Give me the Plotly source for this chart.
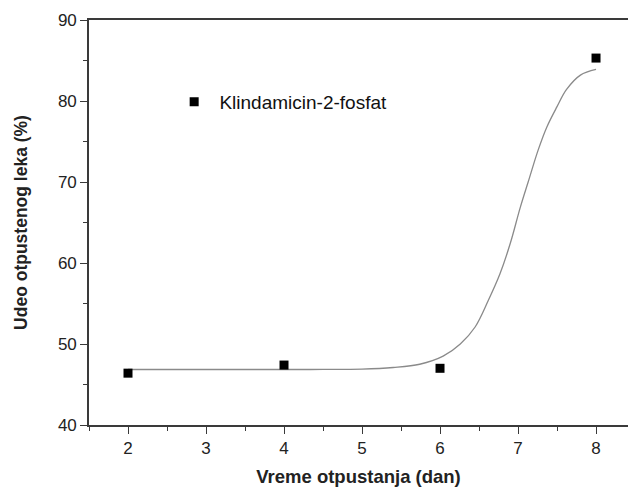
import plotly.graph_objects as go

# Measured release: day vs. released fraction (%)
days = [2, 4, 6, 8]
released = [46.4, 47.4, 47.0, 85.3]

# Sigmoidal fit curve, sampled points
fit_days = [2.0, 3.0, 4.0, 4.5, 5.0, 5.4, 5.74, 6.04, 6.26, 6.45, 6.62,
            6.77, 6.90, 7.03, 7.13, 7.26, 7.37, 7.50, 7.62, 7.80, 8.0]
fit_released = [46.85, 46.85, 46.85, 46.86, 46.9, 47.1, 47.5, 48.5, 50.0,
                52.1, 55.4, 58.7, 62.4, 66.9, 70.0, 74.0, 76.8, 79.3, 81.4,
                83.2, 83.9]

x_ticks = [2, 3, 4, 5, 6, 7, 8]
y_ticks = [40, 50, 60, 70, 80, 90]

series_name = "\u00a0Klindamicin-2-fosfat"
font_family = "Arial, 'Liberation Sans', sans-serif"
axis_color = "#3a3a3a"

fig = go.Figure()

fig.add_trace(go.Scatter(
    x=fit_days, y=fit_released, mode="lines",
    line=dict(color="#8a8a8a", width=1.3, shape="spline", smoothing=1.0),
    showlegend=False, hoverinfo="skip",
))

fig.add_trace(go.Scatter(
    x=days, y=released, mode="markers", name=series_name,
    marker=dict(symbol="square", size=9, color="black"),
))

axis_common = dict(
    showgrid=False, zeroline=False, showline=True,
    linecolor=axis_color, linewidth=1.6,
    ticks="outside", ticklen=7, tickwidth=1.3, tickcolor=axis_color,
    tickfont=dict(family=font_family, size=17, color="#222"),
)

fig.update_xaxes(
    **axis_common,
    range=[1.5, 8.41], tickvals=x_ticks, mirror=True,
    minor=dict(dtick=0.5, ticks="outside", ticklen=4, tickwidth=1.2, tickcolor=axis_color),
    title=dict(text="<b>Vreme otpustanja (dan)</b>",
               font=dict(family=font_family, size=18.5, color="#222"), standoff=16),
)
fig.update_yaxes(
    **axis_common,
    range=[40, 90], tickvals=y_ticks, mirror=False,
    minor=dict(dtick=5, ticks="outside", ticklen=4, tickwidth=1.2, tickcolor=axis_color),
    title=dict(text="<b>Udeo otpustenog leka (%)</b>",
               font=dict(family=font_family, size=17.5, color="#222"), standoff=26),
)

fig.update_layout(
    width=628, height=487,
    margin=dict(l=89, r=0, t=20, b=62),
    paper_bgcolor="white", plot_bgcolor="white",
    legend=dict(
        x=0.158, y=0.7975, xanchor="left", yanchor="middle",
        bgcolor="rgba(0,0,0,0)", borderwidth=0,
        font=dict(family=font_family, size=19, color="#111"),
    ),
)

fig.write_html("out.html")
